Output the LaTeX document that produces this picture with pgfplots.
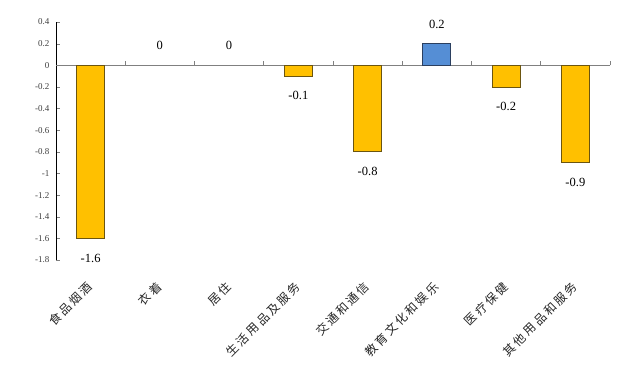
\documentclass[border=0pt]{standalone}
\usepackage{pgfplots}
\pgfplotsset{compat=1.18}
\usepackage{fontspec}
\setmainfont{Liberation Serif}
\newfontfamily\cjk[LetterSpace=20]{Noto Sans CJK SC}
\definecolor{gold}{HTML}{FFC000}
\definecolor{goldedge}{HTML}{6B5510}
\definecolor{blueb}{HTML}{558ED5}
\definecolor{blueedge}{HTML}{2B3F5F}
\definecolor{zeroline}{HTML}{808080}
\begin{document}
\begin{tikzpicture}[x=1pt,y=1pt]
\fill[white] (0,0) rectangle (635,388);
\path[use as bounding box] (0,0) rectangle (635,388);
\begin{axis}[
  at={(56pt,128pt)}, anchor=south west,
  scale only axis, width=554pt, height=238pt,
  xmin=-0.5, xmax=7.5, ymin=-1.8, ymax=0.4,
  axis lines*=left,
  x axis line style={draw=none},
  xtick={0,1,2,3,4,5,6,7},
  xticklabels={食品烟酒,衣着,居住,生活用品及服务,交通和通信,教育文化和娱乐,医疗保健,其他用品和服务},
  xtick style={draw=none},
  xticklabel style={font=\cjk\fontsize{12}{12}\selectfont, text=black!85, yshift=-18pt, xshift=2pt, rotate=45, anchor=east},
  ytick={-1.8,-1.6,-1.4,-1.2,-1,-0.8,-0.6,-0.4,-0.2,0,0.2,0.4},
  ytick align=inside,
  major tick length=4pt,
  yticklabel style={font=\fontsize{9}{9}\selectfont, text=black!75, xshift=-3pt},
  /pgf/number format/assume math mode=true,
  /pgf/number format/fixed,
  /pgf/number format/precision=1,
  ybar, bar width=28pt, bar shift=0pt,
  nodes near coords,
  nodes near coords style={font=\fontsize{12.5}{12.5}\selectfont, inner ysep=15pt, text=black},
  clip=false,
]
\draw[zeroline, line width=1pt] (axis cs:-0.5,0) -- (axis cs:7.5,0);
\pgfplotsinvokeforeach{0.5,1.5,2.5,3.5,4.5,5.5,6.5,7.5}{
  \draw[zeroline, line width=0.8pt] (axis cs:#1,0) -- ++(0pt,4pt);
}
\addplot[fill=gold, draw=goldedge, line width=0.8pt] coordinates {(0,-1.6) (3,-0.1) (4,-0.8) (6,-0.2) (7,-0.9)};
\addplot[fill=none, draw=none] coordinates {(1,0) (2,0)};
\addplot[fill=blueb, draw=blueedge, line width=0.8pt] coordinates {(5,0.2)};
\end{axis}
\end{tikzpicture}
\end{document}
